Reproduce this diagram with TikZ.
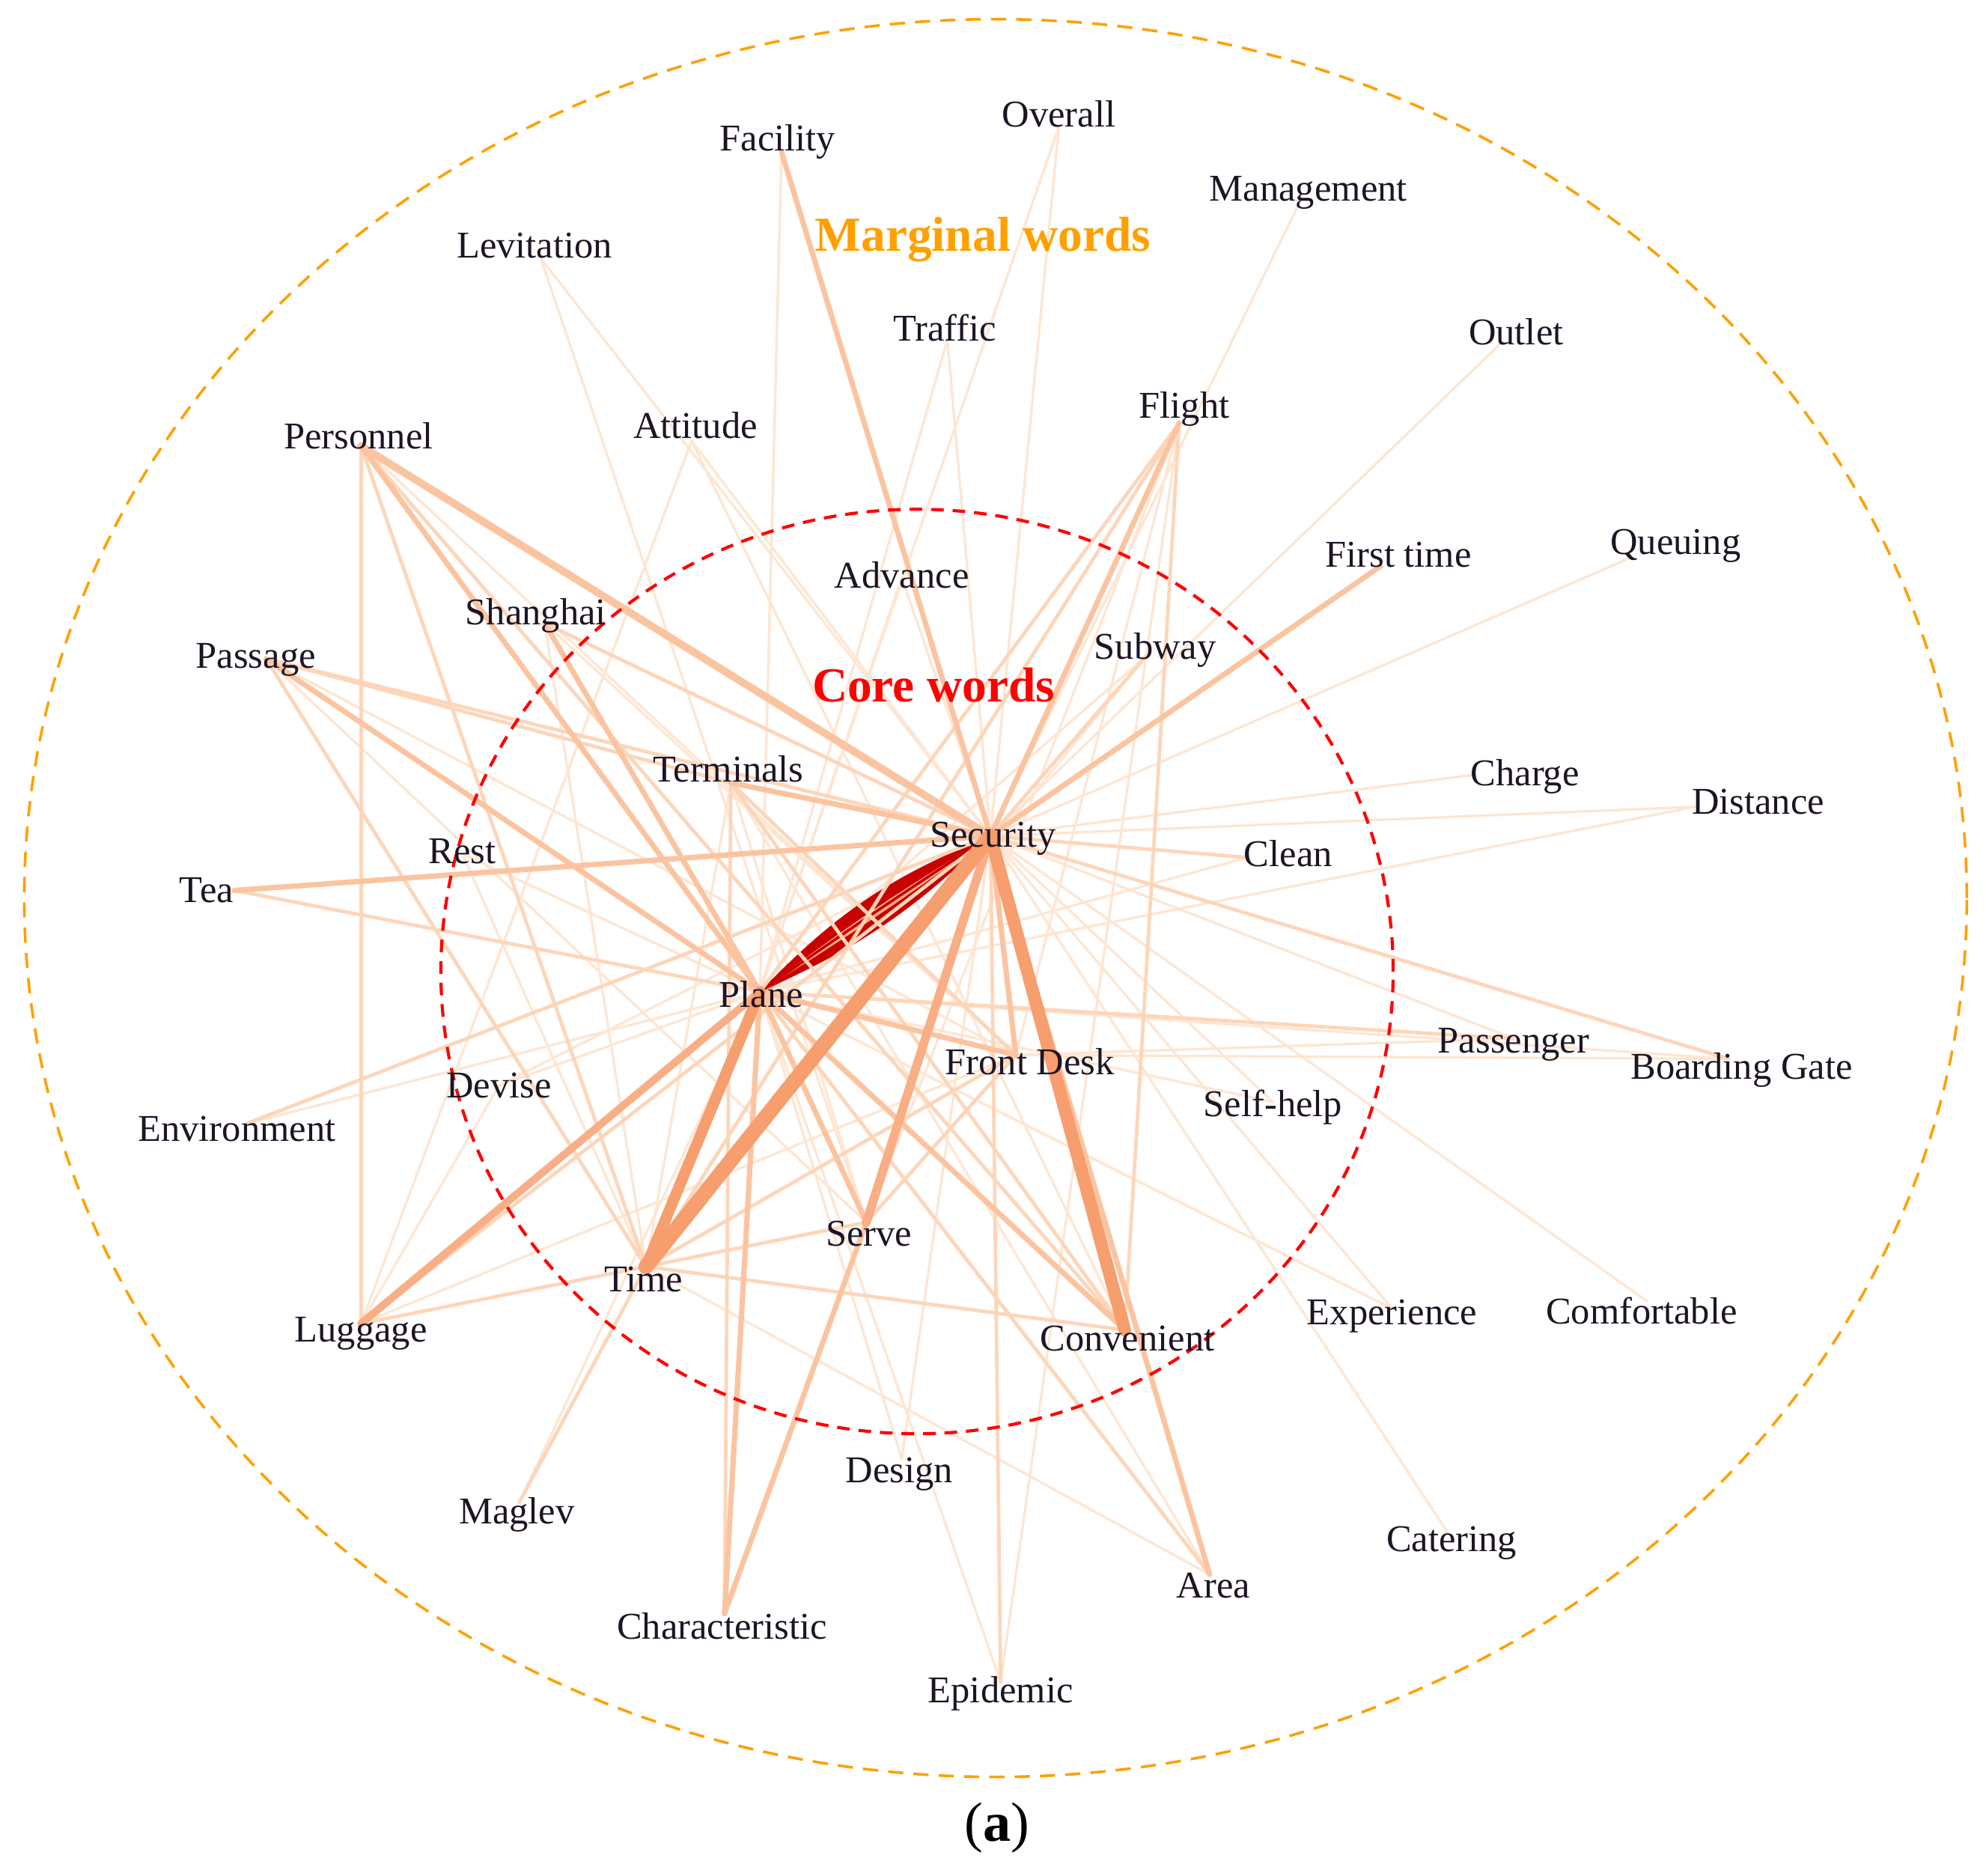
\documentclass[tikz,border=0pt]{standalone}
\usepackage{fontspec}
\setmainfont{Liberation Serif}
\begin{document}
\begin{tikzpicture}[x=0.02cm,y=-0.02cm,
  lbl/.style={inner sep=0pt,text=txt,font=\fontsize{17}{20}\selectfont},
  ttl/.style={inner sep=0pt,font=\fontsize{22}{26}\selectfont\bfseries},
  ea/.style={draw=cA,line width=1.1pt,line cap=round},
  eb/.style={draw=cB,line width=1.6pt,line cap=round},
  ec/.style={draw=cC,line width=2.4pt,line cap=round},
  ed/.style={draw=cD,line cap=round},
  ee/.style={draw=cE,line cap=round},
  lens/.style={fill=cR,draw=none}]
\definecolor{txt}{HTML}{1D1424}
\definecolor{cA}{HTML}{FEE6D2}
\definecolor{cB}{HTML}{FDD6BA}
\definecolor{cC}{HTML}{FBC4A0}
\definecolor{cD}{HTML}{F9AE85}
\definecolor{cE}{HTML}{F69E6E}
\definecolor{cR}{HTML}{C80000}
\definecolor{orng}{HTML}{FFA000}
\useasboundingbox (0,0) rectangle (1568,1481);
\fill[white] (0,0) rectangle (1568,1481);
% edge points
\coordinate (Overall) at (836,100);
\coordinate (Facility) at (617,120);
\coordinate (Management) at (1025,162);
\coordinate (Levitation) at (427,204);
\coordinate (Traffic) at (748,268);
\coordinate (Outlet) at (1186,270);
\coordinate (Flight) at (931,334);
\coordinate (Personnel) at (285,352);
\coordinate (Attitude) at (546,348);
\coordinate (Queuing) at (1288,440);
\coordinate (FirstTime) at (1090,447);
\coordinate (Advance) at (712,456);
\coordinate (Shanghai) at (430,492);
\coordinate (Subway) at (905,518);
\coordinate (Passage) at (210,520);
\coordinate (Terminals) at (577,618);
\coordinate (Charge) at (1162,612);
\coordinate (Distance) at (1338,637);
\coordinate (Security) at (782,660);
\coordinate (Clean) at (985,677);
\coordinate (Rest) at (365,674);
\coordinate (Tea) at (185,703);
\coordinate (Plane) at (600,783);
\coordinate (Passenger) at (1195,820);
\coordinate (BoardingGate) at (1365,836);
\coordinate (FrontDesk) at (802,833);
\coordinate (Devise) at (394,857);
\coordinate (SelfHelp) at (1005,870);
\coordinate (Environment) at (195,887);
\coordinate (Serve) at (684,965);
\coordinate (Time) at (510,1000);
\coordinate (Luggage) at (285,1045);
\coordinate (Convenient) at (888,1050);
\coordinate (Experience) at (1099,1033);
\coordinate (Comfortable) at (1300,1027);
\coordinate (Design) at (712,1152);
\coordinate (Maglev) at (410,1186);
\coordinate (Catering) at (1143,1210);
\coordinate (Area) at (955,1243);
\coordinate (Characteristic) at (572,1274);
\coordinate (Epidemic) at (790,1328);
% outer circle
\draw[orng,line width=1.2pt,dash pattern=on 0.24cm off 0.16cm] (786,709) ellipse [x radius=15.34cm, y radius=13.88cm];
% light edges
\foreach \a/\b in {Overall/Security,Overall/Plane,Traffic/Security,Traffic/Plane,Levitation/Security,Levitation/Serve,
  Attitude/Security,Attitude/Luggage,Attitude/Convenient,Management/Security,Outlet/Security,Queuing/Security,
  Charge/Security,Distance/Security,Distance/Plane,Comfortable/Security,Catering/Security,Experience/Security,
  Experience/Plane,SelfHelp/Security,SelfHelp/Plane,Epidemic/Plane,Time/Area,Area/Terminals,Maglev/Plane,
  Environment/Plane,Devise/Security,Devise/Plane,Rest/Plane,Rest/Time,Advance/Security,Advance/Plane,
  Subway/Plane,Subway/Time,FirstTime/Plane,Flight/FrontDesk,Flight/Epidemic,Flight/Serve,Design/Security,
  Design/Plane,Shanghai/Time,Shanghai/FrontDesk,Personnel/FrontDesk,Luggage/FrontDesk,Luggage/Serve,
  BoardingGate/Plane,BoardingGate/FrontDesk,Passenger/FrontDesk,Passenger/Security,Clean/Plane,Terminals/Time,
  Terminals/Serve,Convenient/Terminals,Facility/Plane,Passage/Serve,Passage/FrontDesk,Devise/Luggage}
  \draw[ea] (\a) -- (\b);
% Security -- Plane bundle
\draw[cD,line width=3.5pt,line cap=round] (Plane) -- (Security);
\fill[lens] (Plane) to[bend left=12] (Security) to[bend right=3] (Plane) -- cycle;
\fill[lens] (Plane) to[bend right=2] (Security) to[bend left=10] (Plane) -- cycle;
\draw[cR,line width=1.2pt] (Plane) to[bend left=1] (Security);
\foreach \a/\b in {Personnel/Luggage,Personnel/Time,Personnel/Convenient,Passage/Security,Passage/Terminals,
  Passage/Time,Tea/Plane,Environment/Security,Luggage/Security,Luggage/Time,Maglev/Time,Epidemic/Security,
  Plane/Area,Plane/Passenger,Security/BoardingGate,Security/Clean,Subway/Security,Flight/Convenient,
  Flight/Time,Shanghai/Security,Terminals/Characteristic,Terminals/FrontDesk,Terminals/Convenient,
  Time/Convenient,Time/Serve,Time/FrontDesk,Serve/FrontDesk,Flight/Plane}
  \draw[eb] (\a) -- (\b);
\foreach \a/\b in {Facility/Security,Tea/Security,Terminals/Security,Flight/Security,FirstTime/Security,
  Passage/Plane,Shanghai/Plane,Personnel/Plane,Plane/Characteristic,Serve/Characteristic,Plane/FrontDesk,
  Plane/Convenient,Plane/Serve,Security/Area,Security/FrontDesk}
  \draw[ec] (\a) -- (\b);
\draw[ec,line width=3.4pt] (Personnel) -- (Security);
\draw[ed,line width=3.4pt] (Luggage) -- (Plane);
\draw[ed,line width=4pt] (Security) -- (Serve);
\draw[ee,line width=5pt] (Plane) -- (Time);
\draw[ee,line width=6.8pt] (Security) -- (Time);
\draw[ee,line width=5.7pt] (Security) -- (Convenient);
% inner circle
\draw[red,line width=1.4pt,dash pattern=on 0.2cm off 0.14cm] (724,767) ellipse [x radius=7.52cm, y radius=7.3cm];
% labels
\node[lbl] (tOverall) at (836,90) {Overall};
\node[lbl] (tFacility) at (614,112) {Facility};
\node[lbl] (tManagement) at (1033,152) {Management};
\node[lbl] (tLevitation) at (422,194) {Levitation};
\node[lbl] (tTraffic) at (746,259) {Traffic};
\node[lbl] (tOutlet) at (1197,262) {Outlet};
\node[lbl] (tFlight) at (935,323) {Flight};
\node[lbl] (tPersonnel) at (283,344) {Personnel};
\node[lbl] (tAttitude) at (549,336) {Attitude};
\node[lbl] (tQueuing) at (1323,431) {Queuing};
\node[lbl] (tFirstTime) at (1104,438) {First time};
\node[lbl] (tAdvance) at (712,454) {Advance};
\node[lbl] (tShanghai) at (423,486) {Shanghai};
\node[lbl] (tSubway) at (912,513) {Subway};
\node[lbl] (tPassage) at (202,521) {Passage};
\node[lbl] (tTerminals) at (575,607) {Terminals};
\node[lbl] (tCharge) at (1204,613) {Charge};
\node[lbl] (tDistance) at (1388,633) {Distance};
\node[lbl] (tSecurity) at (784,662) {Security};
\node[lbl] (tClean) at (1017,674) {Clean};
\node[lbl] (tRest) at (365,672) {Rest};
\node[lbl] (tTea) at (163,703) {Tea};
\node[lbl] (tPlane) at (601,785) {Plane};
\node[lbl] (tPassenger) at (1195,825) {Passenger};
\node[lbl] (tBoardingGate) at (1375,845) {Boarding Gate};
\node[lbl] (tFrontDesk) at (813,838) {Front Desk};
\node[lbl] (tDevise) at (394,857) {Devise};
\node[lbl] (tSelfHelp) at (1005,874) {Self-help};
\node[lbl] (tEnvironment) at (187,891) {Environment};
\node[lbl] (tServe) at (686,974) {Serve};
\node[lbl] (tTime) at (508,1010) {Time};
\node[lbl] (tLuggage) at (285,1053) {Luggage};
\node[lbl] (tConvenient) at (890,1057) {Convenient};
\node[lbl] (tExperience) at (1099,1039) {Experience};
\node[lbl] (tComfortable) at (1296,1035) {Comfortable};
\node[lbl] (tDesign) at (710,1164) {Design};
\node[lbl] (tMaglev) at (408,1196) {Maglev};
\node[lbl] (tCatering) at (1146,1218) {Catering};
\node[lbl] (tArea) at (958,1252) {Area};
\node[lbl] (tCharacteristic) at (570,1284) {Characteristic};
\node[lbl] (tEpidemic) at (790,1337) {Epidemic};
\node[ttl,text=orng] (tMarginal) at (776,189) {Marginal words};
\node[ttl,text=red] (tCore) at (737,541) {Core words};
\node[inner sep=0pt,text=black,font=\fontsize{25}{30}\selectfont] (tA) at (787,1443) {(\textbf{a})};
\end{tikzpicture}
\end{document}
